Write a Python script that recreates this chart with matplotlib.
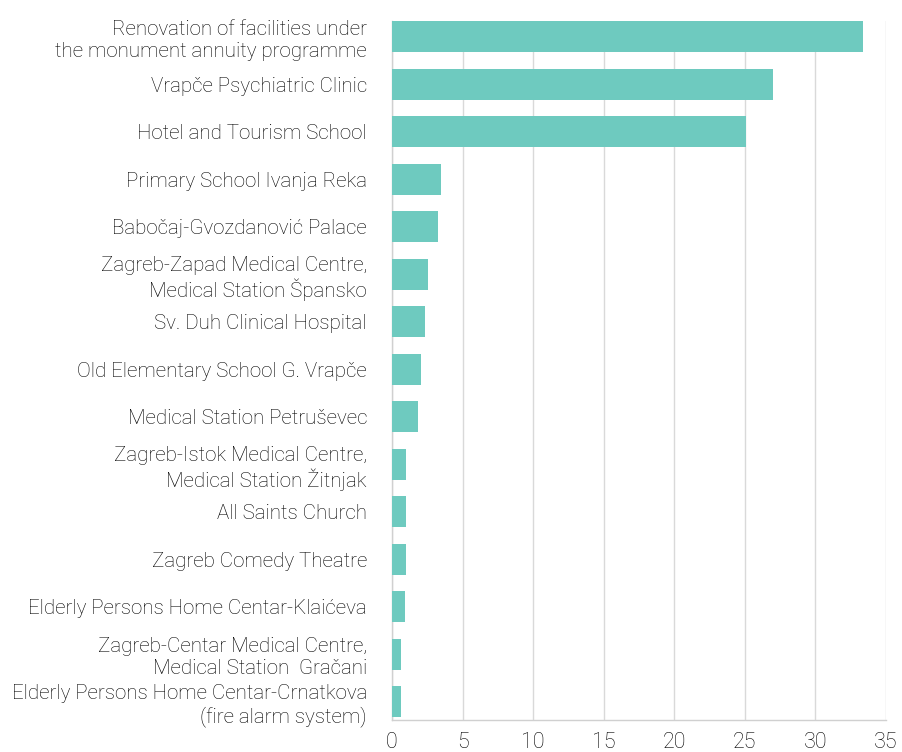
import matplotlib
matplotlib.use('Agg')
from matplotlib import pyplot as plt

labels = [
  'Renovation of facilities under\nthe monument annuity programme',
  'Vrapče Psychiatric Clinic',
  'Hotel and Tourism School',
  'Primary School Ivanja Reka',
  'Babočaj-Gvozdanović Palace',
  'Zagreb-Zapad Medical Centre,\nMedical Station Špansko',
  'Sv. Duh Clinical Hospital',
  'Old Elementary School G. Vrapče',
  'Medical Station Petruševec',
  'Zagreb-Istok Medical Centre,\nMedical Station Žitnjak',
  'All Saints Church',
  'Zagreb Comedy Theatre',
  'Elderly Persons Home Centar-Klaićeva',
  'Zagreb-Centar Medical Centre,\nMedical Station  Gračani',
  'Elderly Persons Home Centar-Crnatkova\n(fire alarm system)',
]
values = [33.4, 27.0, 25.05, 3.45, 3.25, 2.53, 2.32, 2.05, 1.83,
          0.97, 0.97, 0.97, 0.9, 0.62, 0.62]
ticks = [0, 5, 10, 15, 20, 25, 30, 35]

plt.rcParams['font.family'] = ['Roboto', 'DejaVu Sans']
plt.rcParams['font.weight'] = 'light'

fig = plt.figure(figsize=(9.02, 7.52), dpi=100)
ax = fig.add_axes([392/902, 1 - 720/752, (886 - 392)/902, (720 - 21)/752])

pos = list(range(len(labels)))
ax.barh(pos, values, height=0.65, color='#6ecabf', zorder=3)

ax.set_xlim(0, 35)
ax.set_ylim(len(labels) - 1 + 0.38, -0.33)
ax.set_xticks(ticks)
ax.set_xticklabels([str(t) for t in ticks], fontsize=15.5, color='#000000', fontweight='light')
ax.set_yticks(pos)
ax.set_yticklabels(labels, fontsize=14.8, color='#000000', ha='right', fontweight='light')
ax.tick_params(axis='both', length=0)
ax.tick_params(axis='y', pad=18)
ax.tick_params(axis='x', pad=9)

ax.grid(axis='x', color='#d9d9d9', linewidth=1, zorder=0)
for s in ['top', 'right']:
  ax.spines[s].set_visible(False)
for s in ['left', 'bottom']:
  ax.spines[s].set_color('#d0d0d0')
  ax.spines[s].set_linewidth(1)

fig.savefig('out.png', dpi=100)
